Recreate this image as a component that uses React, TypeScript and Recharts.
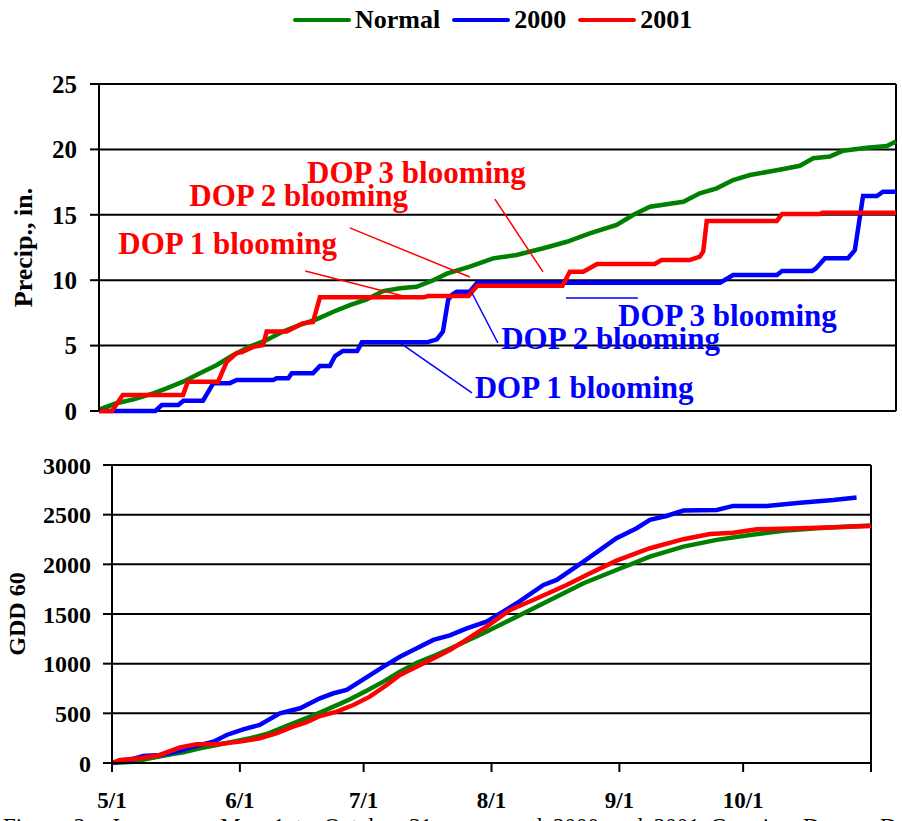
import React from "react";
import { LineChart, Line, XAxis, YAxis, CartesianGrid, ReferenceLine, ReferenceDot } from "recharts";

// series names / colours
const seriesNames = ["Normal", "2000", "2001"];
const seriesColors = ["#008000", "#0000ff", "#ff0000"];

// x axis: days after May 1
const monthTicks = [0, 31, 61, 92, 123, 153, 184];
const monthLabels = ["5/1", "6/1", "7/1", "8/1", "9/1", "10/1", ""];
const precipTicks = [0, 5, 10, 15, 20, 25];
const gddTicks = [0, 500, 1000, 1500, 2000, 2500, 3000];

// cumulative precipitation, in.
const precipNormalDays = [0, 4, 8, 12.5, 15.6, 19.4, 23.3, 27.2, 31, 34.8, 38.7, 42.5, 46.4, 50.2, 54.1, 57.9, 61.8, 65.6, 69.5, 73.3, 77.2, 80.3, 85.6, 91, 96.4, 102.6, 108, 113.3, 119.5, 123.3, 127.2, 134.9, 138.7, 142.6, 146.4, 150.3, 158, 161.8, 164.9, 168.7, 171.8, 177.3, 181.9, 184];
const precipNormal = [0.1, 0.59, 0.89, 1.35, 1.73, 2.24, 2.88, 3.52, 4.28, 4.92, 5.43, 6.07, 6.58, 7.01, 7.59, 8.1, 8.54, 9.17, 9.38, 9.5, 10.0, 10.5, 11.03, 11.67, 11.93, 12.44, 12.94, 13.58, 14.22, 14.98, 15.62, 16.0, 16.64, 17.02, 17.66, 18.04, 18.5, 18.75, 19.32, 19.45, 19.9, 20.13, 20.26, 20.6];

const precip2000Days = [0, 13, 14.5, 18.3, 19.5, 24, 26.4, 30.2, 31.8, 40.2, 41, 43.7, 44.5, 49.4, 51, 53.3, 54.5, 56.3, 59.6, 60.7, 75.7, 78, 79.4, 80.6, 81.5, 82.6, 85.6, 87.3, 143.4, 146.4, 156.5, 157.7, 164.6, 165.5, 167.6, 172.9, 174.5, 176.4, 179.6, 181, 184];
const precip2000 = [0, 0, 0.46, 0.46, 0.79, 0.79, 2.13, 2.13, 2.37, 2.37, 2.5, 2.5, 2.88, 2.88, 3.44, 3.44, 4.2, 4.59, 4.59, 5.25, 5.25, 5.48, 6.07, 8.5, 8.9, 9.12, 9.12, 9.81, 9.81, 10.4, 10.4, 10.7, 10.7, 10.9, 11.67, 11.67, 12.3, 16.44, 16.44, 16.77, 16.77];

const precip2001Days = [0, 3, 5.5, 19.4, 20.5, 27.5, 29.5, 31.8, 33, 35.6, 37.9, 38.7, 43.3, 44.7, 47, 49.4, 51, 74.9, 76, 85.3, 87.3, 107, 108.7, 111.8, 115, 128.3, 129.9, 136.4, 138.7, 139.5, 140.3, 156.5, 157.7, 166.4, 167, 184];
const precip2001 = [0, 0, 1.22, 1.22, 2.24, 2.24, 3.77, 4.43, 4.5, 4.9, 5.04, 6.07, 6.07, 6.3, 6.7, 6.8, 8.69, 8.69, 8.79, 8.79, 9.58, 9.58, 10.65, 10.65, 11.24, 11.24, 11.54, 11.54, 11.8, 12.2, 14.53, 14.53, 15.06, 15.06, 15.16, 15.16];

// cumulative growing degree days, base 60
const gddNormalDays = [0, 5.2, 9.2, 13.3, 17.3, 21.3, 25.4, 29.4, 33.5, 37.5, 41.5, 45.6, 49.6, 53.7, 57.7, 61.7, 65.8, 69.8, 73.9, 77.9, 81.9, 90, 98.1, 106.2, 114.3, 122.3, 130.4, 138.5, 146.6, 154.7, 162.7, 170.8, 178.9, 184];
const gddNormal = [0, 13, 47, 81, 108, 148, 181, 215, 249, 292, 359, 426, 493, 567, 641, 728, 819, 919, 1010, 1075, 1150, 1306, 1473, 1641, 1810, 1943, 2077, 2178, 2246, 2296, 2339, 2363, 2380, 2390];

const gdd2000Days = [0, 3.6, 7.6, 11.6, 15.7, 19.7, 24.6, 27.8, 31.8, 35.8, 40.7, 45.6, 50.4, 53.7, 56.9, 61.7, 65.8, 69.8, 73.9, 77.9, 81.9, 86, 90.8, 98.1, 104.6, 107.8, 114.3, 122.3, 127.2, 130.4, 134.4, 138.5, 146.6, 150.6, 158.7, 166.8, 174.9, 180.5];
const gdd2000 = [0, 23, 70, 81, 114, 164, 215, 282, 339, 383, 500, 551, 651, 702, 735, 863, 970, 1070, 1155, 1239, 1285, 1356, 1423, 1608, 1792, 1843, 2027, 2263, 2363, 2447, 2487, 2541, 2548, 2588, 2588, 2621, 2648, 2672];

const gdd2001Days = [0, 1.9, 6.8, 11.6, 16.5, 20.5, 25.4, 31, 35.8, 39.8, 43.9, 47.2, 50.4, 54.5, 58.5, 62.5, 66.6, 69.8, 73.1, 76.3, 81.9, 85.2, 90.8, 96.5, 102.1, 110.2, 115.9, 122.3, 130.4, 138.5, 145, 150.6, 156.3, 166.8, 174.9, 184];
const gdd2001 = [0, 30, 47, 81, 158, 188, 188, 215, 249, 299, 366, 410, 473, 517, 584, 668, 785, 886, 953, 1020, 1138, 1222, 1373, 1541, 1641, 1792, 1910, 2037, 2162, 2253, 2306, 2319, 2353, 2363, 2373, 2387];

// blooming notes (data coordinates of label centres and leader lines)
const noteText = ["DOP 1 blooming", "DOP 2 blooming", "DOP 3 blooming"];
const note2001Days = [29.7, 46.1, 73.3];
const note2001Vals = [12.84, 16.5, 18.27];
const leader2001From = [[47.6, 10.7], [57.9, 14.0], [91.4, 16.2]];
const leader2001To = [[70.2, 8.79], [85.6, 10.24], [102.5, 10.63]];
const note2000Days = [112, 118.1, 145.1];
const note2000Vals = [1.83, 5.58, 7.34];
const leader2000From = [[69.5, 5.2], [86.1, 9.02], [107.8, 8.64]];
const leader2000To = [[86.1, 1.38], [92.1, 5.2], [124.4, 8.64]];

const zip = (days: number[], vals: number[]) => days.map((d, i) => ({ d, v: vals[i] }));

const precipSeries = [zip(precipNormalDays, precipNormal), zip(precip2000Days, precip2000), zip(precip2001Days, precip2001)];
const gddSeries = [zip(gddNormalDays, gddNormal), zip(gdd2000Days, gdd2000), zip(gdd2001Days, gdd2001)];

const FONT = "'Liberation Serif', 'Times New Roman', serif";
const tickStyle = { fontSize: 25, fontWeight: "bold", fill: "#000" };
const lineStroke = { stroke: "#000", strokeWidth: 2 };

const Legend = () => (
  <div style={{ position: "absolute", top: 4, left: 293, display: "flex", alignItems: "center", fontSize: 26, fontWeight: "bold", lineHeight: "32px" }}>
    {seriesNames.map((name, i) => (
      <div key={name} style={{ display: "flex", alignItems: "center", marginRight: 12 }}>
        <div style={{ width: 58, height: 4, borderRadius: 2, background: seriesColors[i], marginRight: 4 }} />
        <span>{name}</span>
      </div>
    ))}
  </div>
);

const notes = (days: number[], vals: number[], from: number[][], to: number[][], color: string, tag: string) => [
  ...from.map((p, i) => (
    <ReferenceLine key={`${tag}l${i}`} segment={[{ x: p[0], y: p[1] }, { x: to[i][0], y: to[i][1] }]} stroke={color} strokeWidth={1.5} />
  )),
  ...days.map((d, i) => (
    <ReferenceDot key={`${tag}t${i}`} x={d} y={vals[i]} r={0} stroke="none" fill="none"
      label={{ value: noteText[i], position: "center", fill: color, fontSize: 31, fontWeight: "bold" }} />
  )),
];

export default function App() {
  return (
    <div style={{ position: "absolute", left: 0, top: 0, width: 902, height: 821, overflow: "hidden", background: "#fff", fontFamily: FONT }}>
      <Legend />

      <div style={{ position: "absolute", left: 0, top: 0 }}>
        <LineChart width={902} height={420} margin={{ top: 84, right: 6, bottom: 9, left: 0 }}>
          <CartesianGrid vertical={false} stroke="#000" strokeWidth={2} />
          <XAxis type="number" dataKey="d" domain={[0, 184]} hide />
          <YAxis type="number" domain={[0, 25]} ticks={precipTicks} width={99} tickSize={9} tickMargin={13}
            axisLine={lineStroke} tickLine={lineStroke} tick={tickStyle} interval={0}
            label={{ value: "Precip., in.", angle: -90, position: "insideLeft", offset: 23, style: { textAnchor: "middle", fontSize: 26, fontWeight: "bold", fill: "#000" } }} />
          <ReferenceLine x={184} stroke="#000" strokeWidth={2} />
          {precipSeries.map((data, i) => (
            <Line key={seriesNames[i]} data={data} dataKey="v" type="linear" stroke={seriesColors[i]} strokeWidth={4.5}
              dot={false} activeDot={false} isAnimationActive={false} />
          ))}
          {notes(note2001Days, note2001Vals, leader2001From, leader2001To, "#ff0000", "r")}
          {notes(note2000Days, note2000Vals, leader2000From, leader2000To, "#0000ff", "b")}
        </LineChart>
      </div>

      <div style={{ position: "absolute", left: 0, top: 440 }}>
        <LineChart width={902} height={381} margin={{ top: 25, right: 31, bottom: 0, left: 0 }}>
          <CartesianGrid vertical={false} stroke="#000" strokeWidth={2} />
          <XAxis type="number" dataKey="d" domain={[0, 184]} ticks={monthTicks} interval={0} height={58}
            tickFormatter={(v: number) => monthLabels[monthTicks.indexOf(v)]} tickSize={9} tickMargin={20}
            axisLine={lineStroke} tickLine={lineStroke} tick={{ ...tickStyle, fontSize: 23 }} />
          <YAxis type="number" domain={[0, 3000]} ticks={gddTicks} width={112} tickSize={9} tickMargin={12}
            axisLine={lineStroke} tickLine={lineStroke} tick={{ ...tickStyle, fontSize: 24 }} interval={0}
            label={{ value: "GDD 60", angle: -90, position: "insideLeft", offset: 16, style: { textAnchor: "middle", fontSize: 24, fontWeight: "bold", fill: "#000" } }} />
          <ReferenceLine x={184} stroke="#000" strokeWidth={2} />
          {gddSeries.map((data, i) => (
            <Line key={seriesNames[i]} data={data} dataKey="v" type="linear" stroke={seriesColors[i]} strokeWidth={4.5}
              dot={false} activeDot={false} isAnimationActive={false} />
          ))}
        </LineChart>
      </div>

      <div style={{ position: "absolute", left: 3, top: 815, fontSize: 23, lineHeight: "23px", wordSpacing: 5, whiteSpace: "nowrap" }}>
        Figure 2.&nbsp;&nbsp;In season, May 1 to October 31, mean and 2000 and 2001 Growing Degree Days
      </div>
    </div>
  );
}
